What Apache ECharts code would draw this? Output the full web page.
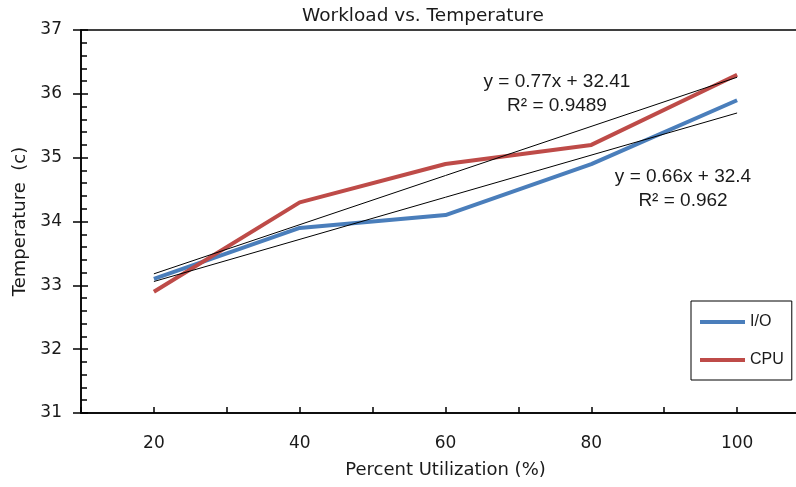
<!DOCTYPE html>
<html>
<head>
<meta charset="utf-8">
<script src="https://cdn.jsdelivr.net/npm/echarts@6/dist/echarts.min.js"></script>
<style>
html,body{margin:0;padding:0;background:#fff;}
#chart{width:796px;height:487px;}
</style>
</head>
<body>
<div id="chart"></div>
<script>
const categories = [20, 40, 60, 80, 100];
const ioTemps = [33.1, 33.9, 34.1, 34.9, 35.9];
const cpuTemps = [32.9, 34.3, 34.9, 35.2, 36.3];
// trendline end values (at 20 and at 100)
const ioTrend = [33.06, 35.70];
const cpuTrend = [33.18, 36.26];
const cpuEquation = ['y = 0.77x + 32.41', 'R\u00B2 = 0.9489'];
const ioEquation = ['y = 0.66x + 32.4', 'R\u00B2 = 0.962'];
const seriesNames = ['I/O', 'CPU'];

const ioData = categories.map((c, i) => [c, ioTemps[i]]);
const cpuData = categories.map((c, i) => [c, cpuTemps[i]]);
const ioTrendData = [[categories[0], ioTrend[0]], [categories[categories.length - 1], ioTrend[1]]];
const cpuTrendData = [[categories[0], cpuTrend[0]], [categories[categories.length - 1], cpuTrend[1]]];

const chart = echarts.init(document.getElementById('chart'), null, {renderer: 'canvas'});
const axisFont = 'DejaVu Sans';
const noteFont = 'Liberation Sans';
const textColor = '#1a1a1a';

chart.setOption({
  animation: false,
  backgroundColor: '#fff',
  title: {
    text: 'Workload vs. Temperature',
    left: 302, top: 7, padding: 0,
    textStyle: {fontFamily: axisFont, fontSize: 18.5, fontWeight: 'normal', color: textColor}
  },
  grid: {left: 81, top: 30, width: 729, height: 383, outerBoundsMode: 'none', containLabel: false, show: true, borderColor: '#000', borderWidth: 1.5, backgroundColor: 'transparent'},
  xAxis: {
    type: 'value', min: 10, max: 110, interval: 10,
    name: 'Percent Utilization (%)', nameLocation: 'middle', nameGap: 48,
    nameTextStyle: {fontFamily: axisFont, fontSize: 18, color: textColor},
    axisLine: {show: true, lineStyle: {color: '#000', width: 1.5}},
    axisTick: {show: true, inside: true, length: 6, lineStyle: {color: '#000', width: 1.5}},
    axisLabel: {
      margin: 22, fontFamily: axisFont, fontSize: 17, color: textColor,
      formatter: v => (categories.indexOf(v) >= 0 ? String(v) : '')
    },
    splitLine: {show: false}
  },
  yAxis: [{
    type: 'value', min: 31, max: 37, interval: 1,
    name: 'Temperature  (c)', nameLocation: 'middle', nameGap: 43, nameRotate: 90,
    nameTextStyle: {fontFamily: axisFont, fontSize: 18, color: textColor},
    axisLine: {show: true, lineStyle: {color: '#000', width: 1.5}},
    axisTick: {show: true, inside: true, length: 7, lineStyle: {color: '#000', width: 1.5}},
    minorTick: {show: true, splitNumber: 5, length: 6, lineStyle: {color: '#000', width: 1.5}},
    axisLabel: {margin: 19, fontFamily: axisFont, fontSize: 17, color: textColor},
    splitLine: {show: false}
  }, {
    type: 'value', min: 31, max: 37, interval: 1, position: 'left',
    axisLine: {show: false},
    axisTick: {show: true, inside: false, length: 8, lineStyle: {color: '#000', width: 1.5}},
    axisLabel: {show: false},
    splitLine: {show: false}
  }],
  legend: {
    data: seriesNames,
    orient: 'vertical', left: 691, top: 301,
    icon: 'rect', itemWidth: 45, itemHeight: 4, itemGap: 22,
    borderColor: '#000', borderWidth: 1, padding: [13, 8, 12, 9],
    textStyle: {fontFamily: noteFont, fontSize: 16, color: textColor}
  },
  series: [
    {name: seriesNames[0], type: 'line', data: ioData, symbol: 'none', lineStyle: {color: '#4A7EBB', width: 4}, itemStyle: {color: '#4A7EBB'}, z: 2},
    {name: seriesNames[1], type: 'line', data: cpuData, symbol: 'none', lineStyle: {color: '#BE4B48', width: 4}, itemStyle: {color: '#BE4B48'}, z: 2},
    {name: 'I/O trend', type: 'line', data: ioTrendData, symbol: 'none', silent: true, lineStyle: {color: '#000', width: 1}, z: 3},
    {name: 'CPU trend', type: 'line', data: cpuTrendData, symbol: 'none', silent: true, lineStyle: {color: '#000', width: 1}, z: 3}
  ],
  graphic: [
    {type: 'text', x: 557, y: 82, style: {text: cpuEquation[0], font: '19px "Liberation Sans"', fill: textColor, textAlign: 'center', textVerticalAlign: 'middle'}},
    {type: 'text', x: 557, y: 106, style: {text: cpuEquation[1], font: '19px "Liberation Sans"', fill: textColor, textAlign: 'center', textVerticalAlign: 'middle'}},
    {type: 'text', x: 683, y: 177, style: {text: ioEquation[0], font: '19px "Liberation Sans"', fill: textColor, textAlign: 'center', textVerticalAlign: 'middle'}},
    {type: 'text', x: 683, y: 201, style: {text: ioEquation[1], font: '19px "Liberation Sans"', fill: textColor, textAlign: 'center', textVerticalAlign: 'middle'}}
  ]
});
</script>
</body>
</html>
